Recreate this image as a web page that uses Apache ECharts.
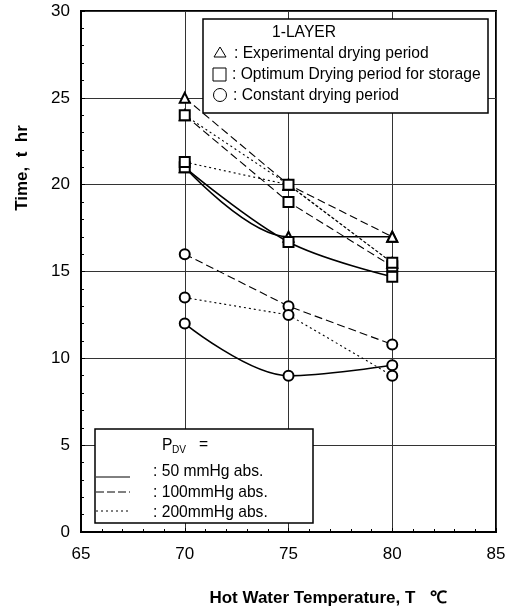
<!DOCTYPE html>
<html>
<head>
<meta charset="utf-8">
<script src="https://cdn.jsdelivr.net/npm/echarts@6/dist/echarts.min.js"></script>
<style>
  html, body { margin: 0; padding: 0; background: #fff; }
  #chart { width: 509px; height: 613px; }
</style>
</head>
<body>
<div id="chart"></div>
<script>
// hot water temperature (C)
var temps = [70, 75, 80];
var xTicks = [65, 70, 75, 80, 85];
var yTicks = [0, 5, 10, 15, 20, 25, 30];

// experimental drying period (triangle)
var expt50 = [21, 17, 17];
var expt100 = [25, 20, 17];
var expt200 = [24, 20, 15.5];
// optimum drying period for storage (square)
var opt50 = [21, 16.7, 14.7];
var opt100 = [24, 19, 15.3];
var opt200 = [21.3, 20, 15.5];
// constant drying period (circle)
var const50 = [12, 9, 9.6];
var const100 = [16, 13, 10.8];
var const200 = [13.5, 12.5, 9];

var sans = '"Liberation Sans", Arial, sans-serif';
var styles = {
    p50: { type: 'solid', width: 1.6 },
    p100: { type: [8, 4], width: 1.1 },
    p200: { type: [2, 3], width: 1.1 }
};

function pts(vals){
    var out = [];
    for (var i = 0; i < temps.length; i++) out.push([temps[i], vals[i]]);
    return out;
}

function mkSeries(name, vals, symbol, press, smooth){
    return {
        name: name,
        type: 'line',
        data: pts(vals),
        symbol: symbol,
        symbolSize: 10,
        smooth: smooth ? 0.35 : false,
        lineStyle: { color: '#000', type: styles[press].type, width: styles[press].width },
        itemStyle: { color: '#000', borderColor: '#000', borderWidth: 1.2 },
        silent: true,
        z: 3
    };
}

var chart = echarts.init(document.getElementById('chart'));

// legend text, squeezed a little like the original's narrow face
var legendText = function(x, y, txt, size){
    return { type: 'text', x: x, y: y, scaleX: 0.92,
        style: { text: txt, font: (size || 17) + 'px ' + sans, fill: '#000', verticalAlign: 'middle' }, z: 20 };
};

var option = {
    animation: false,
    backgroundColor: '#fff',
    grid: { left: 81, right: 13, top: 11, bottom: 81, show: true, borderColor: '#000', borderWidth: 2 },
    xAxis: {
        type: 'value', min: xTicks[0], max: xTicks[xTicks.length - 1], interval: 5,
        axisLine: { lineStyle: { color: '#000', width: 2 } },
        axisTick: { show: true, inside: true, length: 4, lineStyle: { color: '#000' } },
        minorTick: { show: true, splitNumber: 5, length: 3, lineStyle: { color: '#000' } },
        axisLabel: { margin: 14, color: '#000', fontSize: 17, fontFamily: sans,
            formatter: function(v){ return xTicks.indexOf(v) >= 0 ? String(v) : ''; } },
        splitLine: { show: true, lineStyle: { color: '#333', width: 1 } }
    },
    yAxis: {
        type: 'value', min: yTicks[0], max: yTicks[yTicks.length - 1], interval: 5,
        axisLine: { lineStyle: { color: '#000', width: 2 } },
        axisTick: { show: true, inside: true, length: 4, lineStyle: { color: '#000' } },
        minorTick: { show: true, splitNumber: 5, length: 3, lineStyle: { color: '#000' } },
        axisLabel: { margin: 11, color: '#000', fontSize: 17, fontFamily: sans },
        splitLine: { show: true, lineStyle: { color: '#333', width: 1 } }
    },
    series: [
        mkSeries('Experimental 50', expt50, 'emptyTriangle', 'p50', true),
        mkSeries('Experimental 100', expt100, 'emptyTriangle', 'p100', false),
        mkSeries('Experimental 200', expt200, 'emptyTriangle', 'p200', false),
        mkSeries('Optimum 50', opt50, 'emptyRect', 'p50', true),
        mkSeries('Optimum 100', opt100, 'emptyRect', 'p100', false),
        mkSeries('Optimum 200', opt200, 'emptyRect', 'p200', false),
        mkSeries('Constant 50', const50, 'emptyCircle', 'p50', true),
        mkSeries('Constant 100', const100, 'emptyCircle', 'p100', false),
        mkSeries('Constant 200', const200, 'emptyCircle', 'p200', false)
    ],
    graphic: [
        // axis titles
        { type: 'text', x: 328, y: 598, style: { text: 'Hot Water Temperature, T   \u2103', font: 'bold 17px ' + sans, fill: '#000', align: 'center', verticalAlign: 'middle' } },
        { type: 'text', x: 22, y: 168, rotation: Math.PI / 2, style: { text: 'Time,  t  hr', font: 'bold 17px ' + sans, fill: '#000', align: 'center', verticalAlign: 'middle' } },
        // symbol legend box
        { type: 'rect', shape: { x: 203, y: 19, width: 285, height: 94 }, style: { fill: '#fff', stroke: '#000', lineWidth: 1.5 }, z: 10 },
        legendText(272, 32, '1-LAYER'),
        { type: 'polygon', shape: { points: [[220, 47], [214, 57], [226, 57]] }, style: { fill: 'none', stroke: '#000', lineWidth: 1 }, z: 20 },
        legendText(234, 53, ': Experimental drying period'),
        { type: 'rect', shape: { x: 213, y: 68, width: 13, height: 13 }, style: { fill: 'none', stroke: '#000', lineWidth: 1 }, z: 20 },
        legendText(232, 74, ': Optimum Drying period for storage'),
        { type: 'circle', shape: { cx: 220, cy: 95, r: 6.5 }, style: { fill: 'none', stroke: '#000', lineWidth: 1 }, z: 20 },
        legendText(233, 95, ': Constant drying period'),
        // pressure legend box
        { type: 'rect', shape: { x: 95, y: 429, width: 218, height: 94 }, style: { fill: '#fff', stroke: '#000', lineWidth: 1.5 }, z: 10 },
        legendText(162, 445, 'P'),
        legendText(172, 450, 'DV', 11),
        legendText(199, 444, '='),
        legendText(153, 471, ': 50 mmHg abs.'),
        legendText(153, 492, ': 100mmHg abs.'),
        legendText(153, 512, ': 200mmHg abs.'),
        { type: 'line', shape: { x1: 96, y1: 477, x2: 130, y2: 477 }, style: { stroke: '#000', lineWidth: 1 }, z: 20 },
        { type: 'line', shape: { x1: 96, y1: 492, x2: 130, y2: 492 }, style: { stroke: '#000', lineWidth: 1, lineDash: [8, 3] }, z: 20 },
        { type: 'line', shape: { x1: 96, y1: 511, x2: 130, y2: 511 }, style: { stroke: '#000', lineWidth: 1, lineDash: [2, 3] }, z: 20 }
    ]
};

chart.setOption(option);
</script>
</body>
</html>
